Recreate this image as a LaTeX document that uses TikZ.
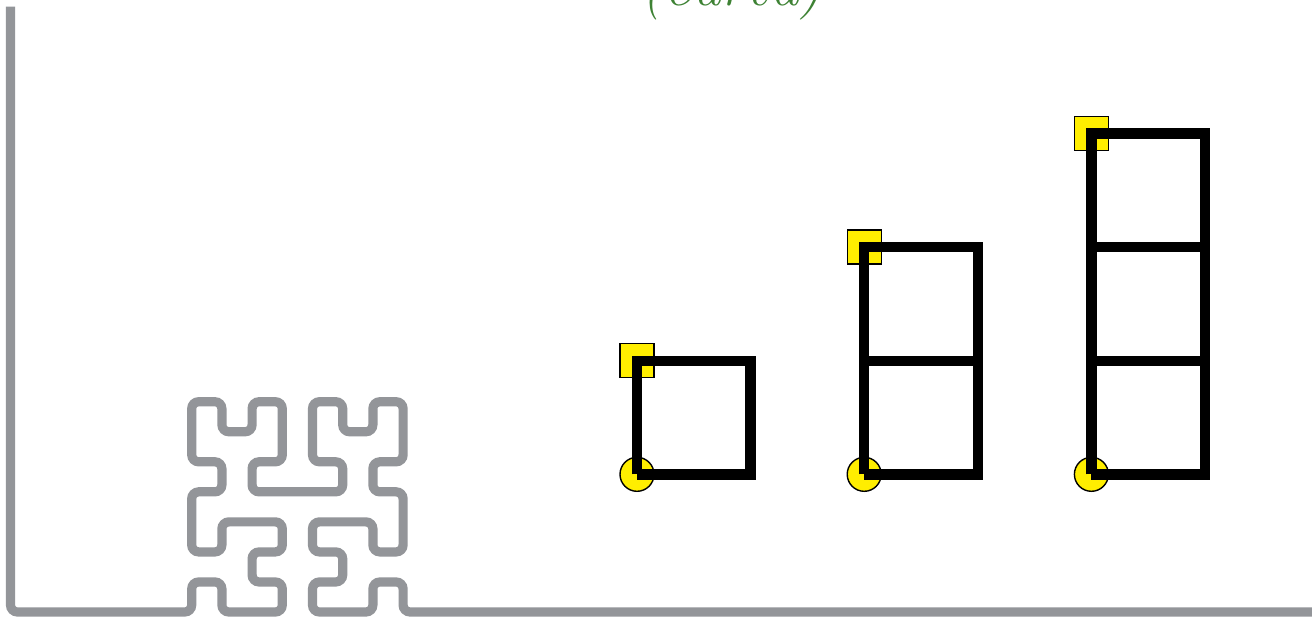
\documentclass[tikz,border=0pt]{standalone}
\usepackage{tikz}
\definecolor{axgray}{RGB}{147,149,153}
\definecolor{capgreen}{RGB}{62,130,52}
\definecolor{mkyellow}{RGB}{255,238,0}
\newcommand\hilpt[2]{(191.7+30.2*#1,612-30.04*#2)}
\tikzset{
  grayline/.style={draw=axgray,line width=4.6pt,rounded corners=3.5pt},
  blkline/.style={draw=black,line width=5.2pt,line cap=butt,line join=miter},
  ysq/.style={draw=black,fill=mkyellow,line width=0.7pt,rectangle,inner sep=0pt,minimum size=17pt},
  ycirc/.style={draw=black,fill=mkyellow,line width=0.7pt,circle,inner sep=0pt,minimum size=17pt},
  captext/.style={text=capgreen,font=\fontsize{29}{31}\selectfont\itshape,inner sep=0pt,anchor=base}
}
\begin{document}
\begin{tikzpicture}[x=0.5pt,y=-0.5pt]
\useasboundingbox (0,0) rectangle (1312,616);
\clip (0,0) rectangle (1312,616);
\fill[white] (0,0) rectangle (1312,616);
% caption (cut off at the top, as in the reference)
\node[captext] (cap) at (732,5) {(curva)};
% axes with Hilbert curve
\coordinate (axtop) at (10.5,6.5);
\coordinate (axcorner) at (10.5,612);
\coordinate (axend) at (1330,612);
\draw[grayline] (axtop) -- (axcorner)
 -- \hilpt{0}{0} -- \hilpt{0}{1} -- \hilpt{1}{1} -- \hilpt{1}{0} -- \hilpt{2}{0} -- \hilpt{3}{0} -- \hilpt{3}{1} -- \hilpt{2}{1}
 -- \hilpt{2}{2} -- \hilpt{3}{2} -- \hilpt{3}{3} -- \hilpt{2}{3} -- \hilpt{1}{3} -- \hilpt{1}{2} -- \hilpt{0}{2} -- \hilpt{0}{3}
 -- \hilpt{0}{4} -- \hilpt{1}{4} -- \hilpt{1}{5} -- \hilpt{0}{5} -- \hilpt{0}{6} -- \hilpt{0}{7} -- \hilpt{1}{7} -- \hilpt{1}{6}
 -- \hilpt{2}{6} -- \hilpt{2}{7} -- \hilpt{3}{7} -- \hilpt{3}{6} -- \hilpt{3}{5} -- \hilpt{2}{5} -- \hilpt{2}{4} -- \hilpt{3}{4}
 -- \hilpt{4}{4} -- \hilpt{5}{4} -- \hilpt{5}{5} -- \hilpt{4}{5} -- \hilpt{4}{6} -- \hilpt{4}{7} -- \hilpt{5}{7} -- \hilpt{5}{6}
 -- \hilpt{6}{6} -- \hilpt{6}{7} -- \hilpt{7}{7} -- \hilpt{7}{6} -- \hilpt{7}{5} -- \hilpt{6}{5} -- \hilpt{6}{4} -- \hilpt{7}{4}
 -- \hilpt{7}{3} -- \hilpt{7}{2} -- \hilpt{6}{2} -- \hilpt{6}{3} -- \hilpt{5}{3} -- \hilpt{4}{3} -- \hilpt{4}{2} -- \hilpt{5}{2}
 -- \hilpt{5}{1} -- \hilpt{4}{1} -- \hilpt{4}{0} -- \hilpt{5}{0} -- \hilpt{6}{0} -- \hilpt{6}{1} -- \hilpt{7}{1} -- \hilpt{7}{0}
 -- (axend);
% stacks of squares
\def\un{113.6}
\foreach \c/\n in {0/1,1/2,2/3}{
  \pgfmathsetmacro\xl{637+2*\un*\c}
  \pgfmathsetmacro\xr{\xl+\un}
  \pgfmathsetmacro\ytop{474.3-\un*\n}
  \node[ycirc] (circ\c) at (\xl,474.3) {};
  \node[ysq] (sq\c) at (\xl,\ytop) {};
  \foreach \k in {1,...,\n}{
    \pgfmathsetmacro\yb{474.3-\un*(\k-1)}
    \pgfmathsetmacro\yt{474.3-\un*\k}
    \coordinate (bl\c\k) at (\xl,\yb);
    \coordinate (tl\c\k) at (\xl,\yt);
    \coordinate (tr\c\k) at (\xr,\yt);
    \coordinate (br\c\k) at (\xr,\yb);
    \draw[blkline] (bl\c\k) -- (tl\c\k) -- (tr\c\k) -- (br\c\k) -- (bl\c\k);
  }
}
\end{tikzpicture}
\end{document}
